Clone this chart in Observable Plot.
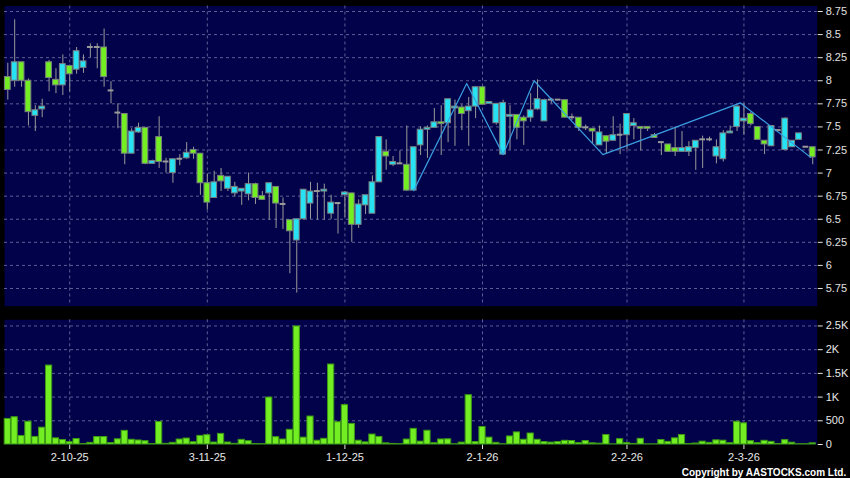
<!DOCTYPE html>
<html>
<head>
<meta charset="utf-8">
<script src="https://cdn.jsdelivr.net/npm/d3@7"></script>
<script src="https://cdn.jsdelivr.net/npm/@observablehq/plot@0.6"></script>
<style>
html, body { margin: 0; padding: 0; background: #000; }
#chart { position: relative; width: 850px; height: 478px; background: #000; overflow: hidden; }
#chart svg { display: block; }
</style>
</head>
<body>
<div id="chart"></div>
<script>
// ---- data (one entry per trading session) ----
const opens = [8.04,8.00,8.20,8.00,7.62,7.69,8.20,8.01,7.95,8.16,8.12,8.14,8.36,8.36,8.36,7.89,7.65,7.64,7.21,7.44,
  7.49,7.10,7.39,7.12,7.00,7.15,7.16,7.25,7.21,6.89,6.73,6.97,6.83,6.78,6.80,6.77,6.88,6.75,6.78,6.85,
  6.66,6.49,6.27,6.50,6.67,6.80,6.80,6.56,6.67,6.76,6.78,6.44,6.65,6.56,6.90,7.23,7.09,7.10,7.09,6.81,
  7.30,7.47,7.49,7.55,7.54,7.70,7.71,7.67,7.72,7.93,7.75,7.54,7.20,7.61,7.63,7.60,7.60,7.69,7.56,7.79,
  7.79,7.79,7.60,7.60,7.49,7.48,7.30,7.40,7.35,7.41,7.41,7.51,7.50,7.50,7.41,7.33,7.31,7.27,7.23,7.23,
  7.27,7.36,7.36,7.18,7.15,7.43,7.50,7.56,7.64,7.50,7.35,7.29,7.46,7.25,7.28,7.36,7.28,7.28];
const highs = [8.19,8.66,8.20,8.02,7.73,7.80,8.22,8.13,8.28,8.17,8.36,8.28,8.40,8.40,8.56,7.99,7.75,7.64,7.48,7.54,
  7.49,7.14,7.61,7.16,7.15,7.20,7.33,7.28,7.21,6.99,7.02,7.05,6.96,6.90,6.83,7.00,6.89,6.80,6.89,6.85,
  6.73,6.49,6.50,6.82,6.90,6.89,6.88,6.76,6.68,6.80,6.78,6.71,6.76,6.97,7.39,7.36,7.18,7.24,7.51,7.28,
  7.50,7.51,7.70,7.73,7.80,7.79,7.74,7.82,7.93,7.93,7.77,7.75,7.79,7.73,7.63,7.62,7.86,8.01,7.80,7.81,
  7.79,7.79,7.64,7.60,7.52,7.48,7.51,7.40,7.61,7.53,7.64,7.59,7.50,7.50,7.43,7.33,7.31,7.50,7.45,7.34,
  7.35,7.40,7.39,7.36,7.46,7.51,7.73,7.75,7.66,7.50,7.35,7.51,7.46,7.60,7.35,7.43,7.28,7.28];
const lows = [7.79,7.93,7.93,7.51,7.45,7.60,7.88,7.86,7.84,7.88,8.07,8.08,8.25,8.13,7.93,7.75,7.48,7.09,7.21,7.43,
  7.09,7.10,7.05,7.00,6.89,7.08,7.15,7.15,6.76,6.60,6.73,6.80,6.80,6.74,6.65,6.70,6.66,6.71,6.49,6.40,
  6.39,5.91,5.70,6.49,6.50,6.49,6.49,6.50,6.34,6.52,6.25,6.40,6.55,6.56,6.90,7.03,7.07,7.10,6.80,6.81,
  7.19,7.16,7.49,7.19,7.33,7.29,7.46,7.29,7.59,7.74,7.75,7.52,7.20,7.25,7.36,7.30,7.55,7.68,7.56,7.75,
  7.79,7.60,7.57,7.45,7.46,7.32,7.30,7.21,7.35,7.20,7.25,7.36,7.24,7.45,7.38,7.19,7.23,7.18,7.23,7.18,
  7.03,7.05,7.34,7.10,7.12,7.43,7.45,7.41,7.51,7.36,7.20,7.29,7.46,7.24,7.28,7.36,7.28,7.09];
const closes = [7.90,8.20,8.00,7.66,7.68,7.72,8.03,7.95,8.18,8.07,8.32,8.21,8.36,8.36,8.04,7.89,7.65,7.21,7.45,7.49,
  7.10,7.13,7.12,7.12,7.15,7.15,7.22,7.21,6.89,6.68,6.90,6.91,6.96,6.85,6.83,6.88,6.73,6.71,6.89,6.67,
  6.66,6.37,6.50,6.82,6.80,6.80,6.82,6.68,6.67,6.79,6.44,6.66,6.76,6.90,7.39,7.18,7.12,7.10,6.81,7.28,
  7.47,7.49,7.55,7.53,7.80,7.72,7.64,7.72,7.93,7.74,7.77,7.75,7.76,7.63,7.49,7.56,7.68,7.80,7.79,7.79,
  7.79,7.60,7.60,7.49,7.49,7.45,7.44,7.34,7.41,7.41,7.64,7.54,7.48,7.48,7.38,7.33,7.23,7.23,7.27,7.28,
  7.35,7.36,7.36,7.28,7.43,7.45,7.72,7.59,7.53,7.36,7.31,7.51,7.46,7.59,7.35,7.43,7.28,7.17];
const volumes = [539,575,180,480,160,355,1665,130,95,50,115,8,35,158,158,32,110,288,100,85,
  70,10,476,14,35,105,126,49,182,196,42,224,42,14,98,70,10,7,990,155,
  105,310,2490,145,590,80,120,1687,470,830,435,80,45,210,160,25,12,7,105,330,
  60,290,28,106,110,5,40,1040,52,370,145,35,5,170,255,100,232,100,52,40,
  52,78,74,30,74,25,18,200,3,112,30,12,120,3,3,95,56,130,200,10,
  21,60,35,88,80,28,480,446,70,28,78,56,12,92,38,5,5,25];

const dateLabels = ["2-10-25", "3-11-25", "1-12-25", "2-1-26", "2-2-26", "2-3-26"];
const dateIdx = [9, 29, 49, 69, 90, 107];

const priceTicks = [5.75, 6, 6.25, 6.5, 6.75, 7, 7.25, 7.5, 7.75, 8, 8.25, 8.5, 8.75];
const volTicks = [0, 500, 1000, 1500, 2000, 2500];
const volTickLabels = ["0", "500", "1K", "1.5K", "2K", "2.5K"];

// zigzag trend line vertices (session index, price)
const zigIdx = [59, 66.7, 72, 76.5, 86.5, 106.5, 116.7];
const zigVal = [6.81, 7.97, 7.20, 8.00, 7.20, 7.76, 7.17];

const copyright = "Copyright by AASTOCKS.com Ltd.";

// ---- build tables ----
const rows = opens.map((o, i) => ({i, o, h: highs[i], l: lows[i], c: closes[i], v: volumes[i]}));
const bodies = rows.filter(d => d.o !== d.c);
const dojis = rows.filter(d => d.o === d.c);
const zig = zigIdx.map((x, k) => ({x, y: zigVal[k]}));

// ---- style ----
const NAVY = "#02024a";
const GRID = "#5e5e96";
const UP = "#26e2f2";
const DOWN = "#72ee22";
const WICK = "#9a9a9a";
const OUTLINE = "#7a8080";
const ZIG = "#3a9ee0";
const FONT = "'Liberation Sans', Arial, Helvetica, sans-serif";

const xDomain = [-0.48, 117.65];
const halfW = 0.42;

const price = Plot.plot({
  width: 850,
  height: 312,
  marginLeft: 4,
  marginRight: 33.3,
  marginTop: 5.5,
  marginBottom: 6.3,
  style: {background: "#000", color: "#e2e2e2", fontFamily: FONT, fontSize: "11px", overflow: "visible"},
  x: {domain: xDomain, axis: null},
  y: {domain: [5.5583, 8.8096], axis: "right", ticks: priceTicks, tickFormat: d => String(d),
      tickSize: 5, tickPadding: 3.5, label: null},
  marks: [
    Plot.frame({fill: NAVY, stroke: null}),
    Plot.ruleY(priceTicks, {stroke: GRID, strokeDasharray: "3,3"}),
    Plot.ruleX(dateIdx, {stroke: GRID, strokeDasharray: "3,3"}),
    Plot.ruleX(rows, {x: "i", y1: "l", y2: "h", stroke: WICK, strokeWidth: 1}),
    Plot.rect(bodies, {
      x1: d => d.i - halfW, x2: d => d.i + halfW, y1: "o", y2: "c",
      fill: d => d.c > d.o ? UP : DOWN, stroke: OUTLINE, strokeWidth: 1
    }),
    Plot.rect(dojis, {
      x1: d => d.i - halfW, x2: d => d.i + halfW, y1: "o", y2: "c",
      insetTop: -1, insetBottom: -1, fill: WICK
    }),
    Plot.line(zig, {x: "x", y: "y", stroke: ZIG, strokeWidth: 1.2})
  ]
});

const volume = Plot.plot({
  width: 850,
  height: 166,
  marginLeft: 4,
  marginRight: 33.3,
  marginTop: 7.3,
  marginBottom: 34,
  style: {background: "#000", color: "#e8e8e8", fontFamily: FONT, fontSize: "11px", overflow: "visible"},
  x: {domain: xDomain, ticks: dateIdx, tickFormat: d => dateLabels[dateIdx.indexOf(d)],
      tickSize: 5, tickPadding: 4, label: null},
  y: {domain: [0, 2630], axis: "right", ticks: volTicks, tickFormat: d => volTickLabels[volTicks.indexOf(d)],
      tickSize: 5, tickPadding: 3.5, label: null},
  marks: [
    Plot.frame({fill: NAVY, stroke: null}),
    Plot.ruleY(volTicks.filter(v => v > 0), {stroke: GRID, strokeDasharray: "3,3"}),
    Plot.ruleX(dateIdx, {stroke: GRID, strokeDasharray: "3,3"}),
    Plot.rect(rows, {
      x1: d => d.i - 0.45, x2: d => d.i + 0.45, y1: 0, y2: "v",
      fill: DOWN, stroke: "#3c9a14", strokeWidth: 1
    }),
    Plot.text([copyright], {
      text: d => d, frameAnchor: "bottom-right", dx: 29, dy: 28,
      textAnchor: "end", lineAnchor: "middle",
      fill: "#ffffff", fontWeight: "bold", fontSize: 10
    })
  ]
});

const root = document.getElementById("chart");
root.appendChild(price);
root.appendChild(volume);
</script>
</body>
</html>
